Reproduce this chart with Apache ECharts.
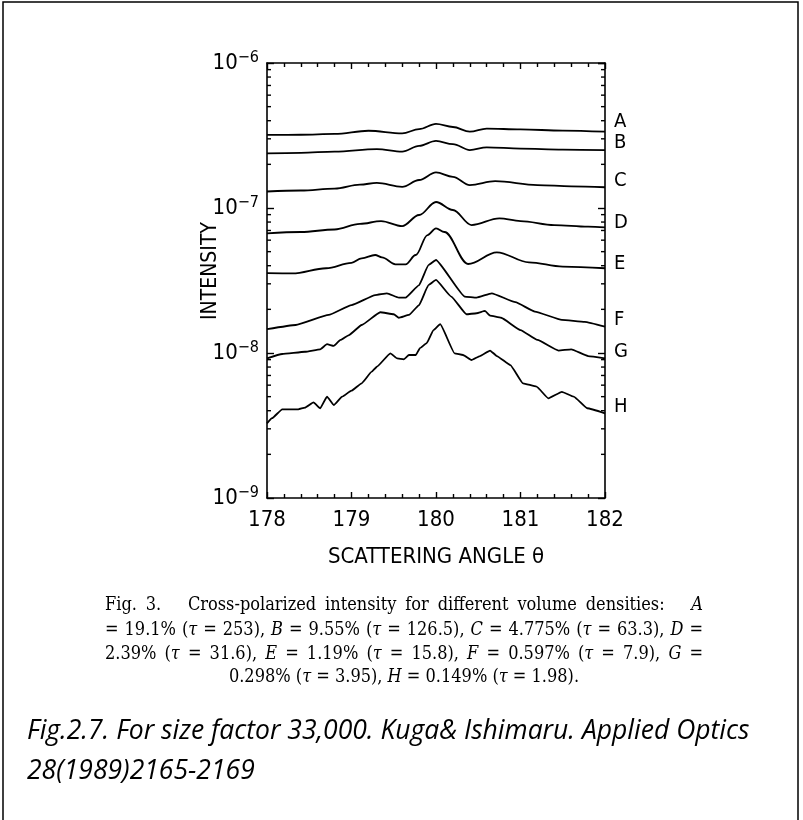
<!DOCTYPE html>
<html>
<head>
<meta charset="utf-8">
<script src="https://cdn.jsdelivr.net/npm/echarts@6/dist/echarts.min.js"></script>
<style>
  html, body { margin: 0; padding: 0; background: #fff; }
  #chart { width: 803px; height: 820px; }
</style>
</head>
<body>
<div id="chart"></div>
<script>
// Cross-polarized backscattered intensity vs scattering angle (deg), curves A..H
const curveNames = ['A', 'B', 'C', 'D', 'E', 'F', 'G', 'H'];

const thetaA = [178.0, 178.4, 178.8, 179.2, 179.6, 179.8, 180.0, 180.2, 180.4, 180.6, 181.0, 181.5, 182.0];
const intensA = [3.19e-7, 3.20e-7, 3.24e-7, 3.41e-7, 3.27e-7, 3.50e-7, 3.80e-7, 3.62e-7, 3.36e-7, 3.53e-7, 3.48e-7, 3.42e-7, 3.36e-7];

const thetaB = [178.0, 178.4, 178.8, 179.3, 179.6, 179.8, 180.0, 180.2, 180.4, 180.6, 181.0, 181.5, 182.0];
const intensB = [2.38e-7, 2.40e-7, 2.45e-7, 2.55e-7, 2.45e-7, 2.68e-7, 2.90e-7, 2.76e-7, 2.51e-7, 2.62e-7, 2.57e-7, 2.53e-7, 2.51e-7];

const thetaC = [178.0, 178.4, 178.8, 179.1, 179.3, 179.6, 179.8, 180.0, 180.2, 180.4, 180.7, 181.2, 181.6, 182.0];
const intensC = [1.30e-7, 1.32e-7, 1.36e-7, 1.45e-7, 1.49e-7, 1.40e-7, 1.56e-7, 1.76e-7, 1.64e-7, 1.44e-7, 1.53e-7, 1.44e-7, 1.41e-7, 1.39e-7];

const thetaD = [178.0, 178.4, 178.8, 179.1, 179.35, 179.6, 179.8, 180.0, 180.2, 180.42, 180.75, 181.0, 181.4, 181.8, 182.0];
const intensD = [6.69e-8, 6.83e-8, 7.11e-8, 7.76e-8, 8.13e-8, 7.51e-8, 8.95e-8, 1.10e-7, 9.69e-8, 7.63e-8, 8.49e-8, 8.13e-8, 7.63e-8, 7.43e-8, 7.34e-8];

const thetaE = [178.0, 178.3, 178.7, 179.0, 179.12, 179.28, 179.36, 179.52, 179.64, 179.76, 179.9, 180.0, 180.1, 180.38, 180.72, 181.1, 181.5, 182.0];
const intensE = [3.55e-8, 3.54e-8, 3.84e-8, 4.18e-8, 4.50e-8, 4.74e-8, 4.57e-8, 4.09e-8, 4.09e-8, 4.74e-8, 6.51e-8, 7.24e-8, 6.83e-8, 4.11e-8, 4.95e-8, 4.22e-8, 3.94e-8, 3.84e-8];

const thetaF = [178.0, 178.34, 178.73, 179.0, 179.28, 179.42, 179.56, 179.64, 179.8, 179.91, 180.0, 180.34, 180.48, 180.66, 180.94, 181.17, 181.49, 181.76, 182.0];
const intensF = [1.46e-8, 1.56e-8, 1.83e-8, 2.14e-8, 2.51e-8, 2.58e-8, 2.41e-8, 2.41e-8, 2.94e-8, 4.04e-8, 4.38e-8, 2.45e-8, 2.41e-8, 2.58e-8, 2.24e-8, 1.93e-8, 1.69e-8, 1.64e-8, 1.52e-8];

const thetaG = [178.0, 178.18, 178.45, 178.63, 178.71, 178.79, 178.87, 178.97, 179.12, 179.34, 179.5, 179.56, 179.68, 179.8, 179.91, 180.0, 180.18, 180.36, 180.48, 180.58, 180.64, 180.77, 181.0, 181.2, 181.45, 181.6, 181.8, 182.0];
const intensG = [9.19e-9, 9.84e-9, 1.02e-8, 1.06e-8, 1.15e-8, 1.12e-8, 1.23e-8, 1.33e-8, 1.56e-8, 1.91e-8, 1.85e-8, 1.75e-8, 1.83e-8, 2.14e-8, 2.94e-8, 3.19e-8, 2.45e-8, 1.85e-8, 1.88e-8, 1.95e-8, 1.81e-8, 1.75e-8, 1.44e-8, 1.23e-8, 1.04e-8, 1.06e-8, 9.53e-9, 9.19e-9];

const thetaH = [178.0, 178.06, 178.18, 178.37, 178.45, 178.55, 178.63, 178.71, 178.79, 178.89, 179.0, 179.12, 179.24, 179.3, 179.46, 179.54, 179.62, 179.68, 179.76, 179.81, 179.89, 179.97, 180.05, 180.22, 180.32, 180.42, 180.52, 180.64, 180.72, 180.88, 181.03, 181.19, 181.33, 181.49, 181.63, 181.79, 182.0];
const intensH = [3.27e-9, 3.55e-9, 4.09e-9, 4.09e-9, 4.20e-9, 4.57e-9, 4.16e-9, 5.00e-9, 4.38e-9, 5.00e-9, 5.50e-9, 6.18e-9, 7.43e-9, 8.04e-9, 9.95e-9, 9.19e-9, 9.05e-9, 9.69e-9, 9.69e-9, 1.08e-8, 1.17e-8, 1.44e-8, 1.58e-8, 9.95e-9, 9.69e-9, 8.95e-9, 9.53e-9, 1.04e-8, 9.53e-9, 8.26e-9, 6.18e-9, 5.86e-9, 4.87e-9, 5.40e-9, 5.00e-9, 4.16e-9, 3.84e-9];

// axis ranges and log minor-tick mantissas
const angleRange = [178, 182];
const intensityRange = [1e-9, 1e-6];
const decades = [1e-9, 1e-8, 1e-7];
const mantissas = [2, 3, 4, 5, 6, 7, 8, 9];

// caption text (italic pieces wrapped in underscores)
const captionJustified = [
  'Fig. 3.   Cross-polarized intensity for different volume densities:   _A_',
  '= 19.1% (_τ_ = 253), _B_ = 9.55% (_τ_ = 126.5), _C_ = 4.775% (_τ_ = 63.3), _D_ =',
  '2.39% (_τ_ = 31.6), _E_ = 1.19% (_τ_ = 15.8), _F_ = 0.597% (_τ_ = 7.9), _G_ ='
];
const captionLast = '0.298% (_τ_ = 3.95), _H_ = 0.149% (_τ_ = 1.98).';
const sourceLines = [
  'Fig.2.7. For size factor 33,000. Kuga& Ishimaru. Applied Optics',
  '28(1989)2165-2169'
];

const curves = [
  [thetaA, intensA], [thetaB, intensB], [thetaC, intensC], [thetaD, intensD],
  [thetaE, intensE], [thetaF, intensF], [thetaG, intensG], [thetaH, intensH]
];
// vertical nudge (px) of each curve's letter above its right-hand end
const letterLift = [-10, -7, -6, -5, -4, -7, -7, -6];

const axisFont = '"DejaVu Sans Condensed", "Liberation Sans", sans-serif';
const serifFont = '"DejaVu Serif Condensed", "DejaVu Serif", "Liberation Serif", serif';
const sourceFont = '"Open Sans", Lato, sans-serif';

const minorValues = [];
decades.forEach(d => mantissas.forEach(m => minorValues.push([angleRange[0], d * m])));

// --- caption layout helpers ---
const mctx = document.createElement('canvas').getContext('2d');
function parseSegs(word) {
  const out = [];
  word.split('_').forEach((p, i) => { if (p) out.push([p, i % 2 === 1]); });
  return out;
}
function segWidth(segs, size, family) {
  let w = 0;
  segs.forEach(([t, it]) => {
    mctx.font = (it ? 'italic ' : '') + size + 'px ' + family;
    w += mctx.measureText(t).width;
  });
  return w;
}
function richText(segs) {
  return segs.map(([t, it]) => '{' + (it ? 'i' : 'n') + '|' + t + '}').join('');
}
// caption size: largest size whose justified lines still fit with normal spacing
const capLeft = 105, capRight = 703;
function naturalWidth(line, size) {
  return segWidth(parseSegs(line.replace(/ +/g, ' ')), size, serifFont);
}
let capSize = 19.5;
while (capSize > 13 && captionJustified.some(l => naturalWidth(l, capSize) > (capRight - capLeft) - 4)) capSize -= 0.5;

const capRich = {
  n: { fontSize: capSize, fontFamily: serifFont, fill: '#000' },
  i: { fontSize: capSize, fontFamily: serifFont, fontStyle: 'italic', fill: '#000' }
};
function justifiedLine(line, x0, x1, y) {
  const words = line.split(' ').map(parseSegs);
  const widths = words.map(s => segWidth(s, capSize, serifFont));
  const total = widths.reduce((a, b) => a + b, 0);
  const gap = (x1 - x0 - total) / (words.length - 1);
  const els = [];
  let x = x0;
  words.forEach((s, k) => {
    if (s.length) {
      els.push({
        type: 'text', x: x, y: y, silent: true,
        style: { text: richText(s), rich: capRich, verticalAlign: 'middle', align: 'left' }
      });
    }
    x += widths[k] + gap;
  });
  return els;
}

const graphics = [
  { type: 'rect', silent: true, shape: { x: 3, y: 2, width: 795, height: 840 },
    style: { fill: null, stroke: '#000', lineWidth: 1.5 } },
  { type: 'text', x: 211, y: 271, rotation: Math.PI / 2, silent: true,
    style: { text: 'INTENSITY', fontSize: 21, fontFamily: axisFont, fill: '#000', align: 'center', verticalAlign: 'middle' } }
];
const capY = [605, 630, 654];
captionJustified.forEach((l, k) => graphics.push(...justifiedLine(l, capLeft, capRight, capY[k])));
graphics.push({
  type: 'text', x: 404, y: 677, silent: true,
  style: { text: richText(parseSegs(captionLast)), rich: capRich, align: 'center', verticalAlign: 'middle' }
});
const srcY = [731, 771];
sourceLines.forEach((t, k) => graphics.push({
  type: 'text', x: 27, y: srcY[k], silent: true,
  style: { text: t, fontSize: 26.5, fontFamily: sourceFont, fontStyle: 'italic', fill: '#000', align: 'left', verticalAlign: 'middle' }
}));

// --- chart ---
const axisLineStyle = { color: '#000', width: 1.6 };
const tickStyle = { color: '#000', width: 1.4 };

function xAxisCfg(pos, showLabels) {
  return {
    type: 'value', position: pos, min: angleRange[0], max: angleRange[1], interval: 1,
    axisLine: { show: true, onZero: false, lineStyle: axisLineStyle },
    axisTick: { show: true, inside: true, length: 6, lineStyle: tickStyle },
    minorTick: { show: true, splitNumber: 5, length: 4, lineStyle: tickStyle },
    splitLine: { show: false }, minorSplitLine: { show: false },
    axisLabel: { show: showLabels, color: '#000', fontSize: 22, fontFamily: axisFont, margin: 11 },
    name: showLabels ? 'SCATTERING ANGLE θ' : '',
    nameLocation: 'middle', nameGap: 48,
    nameTextStyle: { color: '#000', fontSize: 22, fontFamily: axisFont }
  };
}
function yAxisCfg(pos, showLabels) {
  return {
    type: 'log', logBase: 10, position: pos, min: intensityRange[0], max: intensityRange[1],
    axisLine: { show: true, onZero: false, lineStyle: axisLineStyle },
    axisTick: { show: true, inside: true, length: 7, lineStyle: tickStyle },
    splitLine: { show: false }, minorTick: { show: false },
    axisLabel: {
      show: showLabels, color: '#000', fontSize: 22, lineHeight: 27, fontFamily: axisFont, margin: 8,
      formatter: v => '10{sup|−' + Math.abs(Math.round(Math.log10(v))) + '}',
      rich: { sup: { fontSize: 16, lineHeight: 16, verticalAlign: 'top', fontFamily: axisFont, color: '#000' } }
    }
  };
}

const series = curves.map((c, i) => ({
  type: 'line', name: curveNames[i],
  data: c[0].map((t, j) => [t, c[1][j]]),
  showSymbol: false, symbol: 'none',
  smooth: i < 5 ? 0.35 : 0.12, smoothMonotone: 'x',
  lineStyle: { color: '#000', width: 1.8 },
  endLabel: {
    show: true, formatter: () => curveNames[i], offset: [1, letterLift[i]],
    color: '#000', fontSize: 20, fontFamily: axisFont
  },
  animation: false, silent: true
}));

series.push({
  type: 'custom', name: 'minorTicks', silent: true, animation: false, clip: false,
  data: minorValues,
  renderItem: (params, api) => {
    const v = api.value(1);
    const pl = api.coord([angleRange[0], v]);
    const pr = api.coord([angleRange[1], v]);
    return {
      type: 'group', children: [
        { type: 'line', shape: { x1: pl[0], y1: pl[1], x2: pl[0] + 4, y2: pl[1] }, style: { stroke: '#000', lineWidth: 1.4 } },
        { type: 'line', shape: { x1: pr[0], y1: pr[1], x2: pr[0] - 4, y2: pr[1] }, style: { stroke: '#000', lineWidth: 1.4 } }
      ]
    };
  }
});

const chart = echarts.init(document.getElementById('chart'));
chart.setOption({
  animation: false,
  backgroundColor: '#fff',
  grid: { left: 267, right: 198, top: 63, bottom: 322, containLabel: false },
  xAxis: [xAxisCfg('bottom', true), xAxisCfg('top', false)],
  yAxis: [yAxisCfg('left', true), yAxisCfg('right', false)],
  series: series,
  graphic: graphics
});
</script>
</body>
</html>
